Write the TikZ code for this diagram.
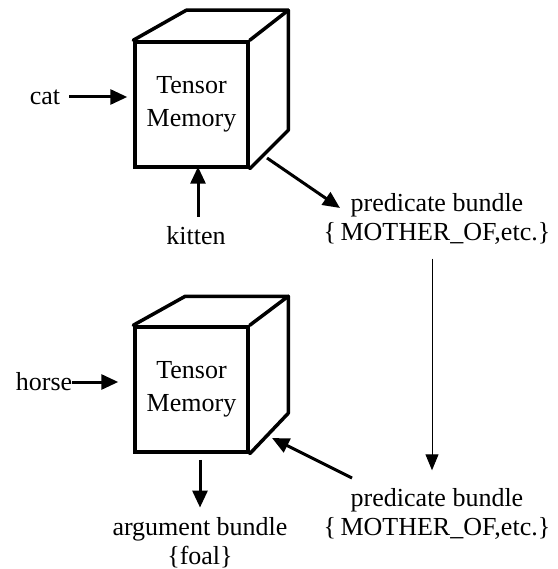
\documentclass[tikz,border=0pt]{standalone}
\usepackage{fontspec}
\setmainfont{Liberation Serif}
\usetikzlibrary{arrows.meta}
\begin{document}
\begin{tikzpicture}[x=1pt,y=-1pt,
  face/.style={draw,line width=3.5pt,minimum width=113pt,minimum height=125pt,inner sep=0pt,align=center,font=\fontsize{26}{33}\selectfont},
  edge/.style={line width=3.5pt,line join=round,line cap=round},
  lbl/.style={inner sep=0pt,align=center,font=\fontsize{26}{29}\selectfont},
  arr/.style={line width=3pt,-{Triangle[length=17pt,width=15pt]}},
  thin/.style={line width=1pt,-{Triangle[length=16pt,width=13pt]}}]
\useasboundingbox (0,0) rectangle (557,569);
% top cube
\node[face] (c1) at (191.5,104.5) {Tensor\\Memory};
\draw[edge] (c1.north west) -- ++(53,-30) coordinate (c1b) -- ++(102,0) coordinate (c1c) -- (c1.north east);
\draw[edge] (c1c) -- ++(0,120) coordinate (c1d) -- (c1.south east);
% bottom cube
\node[face] (c2) at (191.5,389.5) {Tensor\\Memory};
\draw[edge] (c2.north west) -- ++(52,-29) coordinate (c2b) -- ++(103,0) coordinate (c2c) -- (c2.north east);
\draw[edge] (c2c) -- ++(0,117) coordinate (c2d) -- (c2.south east);
% labels
\node[lbl] (cat) at (45,97) {cat};
\node[lbl] (kitten) at (196,236) {kitten};
\node[lbl] (pb1) at (437,219) {predicate bundle\\\{\,MOTHER\_OF,etc.\}};
\node[lbl] (horse) at (44,382) {horse};
\node[lbl] (pb2) at (437,514) {predicate bundle\\\{\,MOTHER\_OF,etc.\}};
\node[lbl] (arg) at (200,543) {argument bundle\\\{foal\}};
% arrows
\draw[arr] (cat.east) ++(9,0) -- (cat.east -| c1.west) [shorten >=6pt];
\draw[arr,shorten <=0pt,shorten >=15pt] (horse.east) -- (horse.east -| c2.west);
\draw[arr,shorten <=10pt,shorten >=-2pt] (kitten.north -| 198,0) -- (c1.south -| 198,0);
\coordinate (t1) at (267,158);
\coordinate (h1) at (340,208);
\draw[arr] (t1) -- (h1);
\draw[thin,shorten <=14pt,shorten >=18pt] (pb1.south -| 432,0) -- (pb2.north -| 432,0);
\coordinate (t2) at (352,478);
\coordinate (h2) at (272,438);
\draw[arr] (t2) -- (h2);
\draw[arr,shorten <=6pt,shorten >=10pt] (c2.south -| 200,0) -- (arg.north -| 200,0);
\end{tikzpicture}
\end{document}
